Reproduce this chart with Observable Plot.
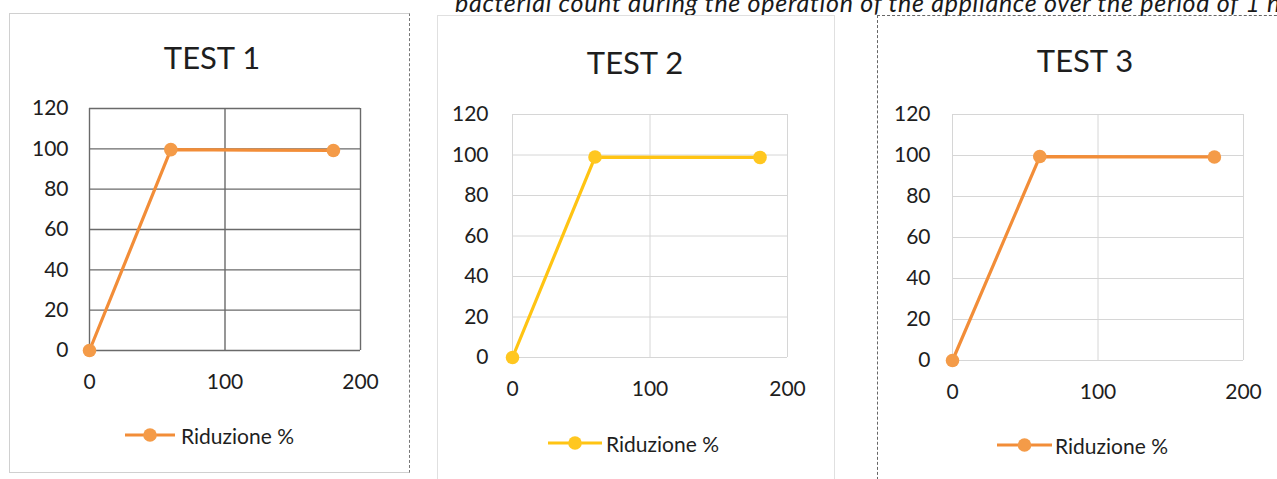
<!DOCTYPE html>
<html>
<head>
<meta charset="utf-8">
<script src="https://cdn.jsdelivr.net/npm/d3@7"></script>
<script src="https://cdn.jsdelivr.net/npm/@observablehq/plot@0.6"></script>
<style>
  html, body { margin: 0; padding: 0; background: #fff; }
  body { width: 1277px; height: 479px; position: relative; overflow: hidden; font-family: Lato, "Open Sans", sans-serif; color: #222; }
  .abs { position: absolute; }
  .title { font-size: 31px; transform: translate(-50%, -50%); white-space: nowrap; color: #1e1e1e; }
  .legtext { font-size: 21px; transform: translateY(-50%); white-space: nowrap; color: #1e1e1e; }
  .cap { font-style: italic; font-size: 25px; white-space: nowrap; color: #1a1a1a; line-height: 1; }
</style>
</head>
<body>
<script>
// ---- data ----
const xTime = [0, 60, 180];
const test1 = [0, 99.6, 99.2];
const test2 = [0, 99.0, 98.8];
const test3 = [0, 99.5, 99.3];
const titles = ["TEST 1", "TEST 2", "TEST 3"];
const seriesName = "Riduzione %";
const xTicks = [0, 100, 200];
const yTicks = [0, 20, 40, 60, 80, 100, 120];
const captionText = "bacterial count during the operation of the appliance over the period of 1 h";

// ---- layout ----
const orange = "#F28D38", orangeDot = "#F49B48", yellow = "#FFC413", yellowDot = "#FFC720";
const panels = [
  { title: titles[0], values: test1, line: orange, dot: orangeDot, grid: "#6a6a6a", gridW: 1.4,
    frame: { x0: 89, x1: 360, y0: 108, y1: 350 }, tx: 212, ty: 57, leg: { x0: 125, x1: 175, y: 435, t: 181 },
    box: { l: 9, t: 13, w: 401, h: 460, css: "border:1px solid #d0d0d0;border-right:1px dashed #777;" }, padY: 21 },
  { title: titles[1], values: test2, line: yellow, dot: yellowDot, grid: "#d6d6d6", gridW: 1,
    frame: { x0: 512, x1: 787, y0: 114, y1: 357 }, tx: 635, ty: 62, leg: { x0: 548, x1: 602, y: 443, t: 606 },
    box: { l: 437, t: 15, w: 398, h: 480, css: "border:1px solid #e0e0e0;" }, padY: 24 },
  { title: titles[2], values: test3, line: orange, dot: orangeDot, grid: "#d6d6d6", gridW: 1,
    frame: { x0: 952, x1: 1243, y0: 114, y1: 360 }, tx: 1085, ty: 60, leg: { x0: 997, x1: 1052, y: 445, t: 1055 },
    box: { l: 877, t: 15, w: 420, h: 480, css: "border-top:1px dashed #666;border-left:1px dashed #666;" }, padY: 22 }
];

function abs(el, x, y) { el.classList.add("abs"); el.style.left = x + "px"; el.style.top = y + "px"; return el; }

// caption (cut off at the top, as in the scan)
const cap = abs(document.createElement("div"), 455, -10);
cap.className += " cap";
cap.textContent = captionText;
document.body.appendChild(cap);
{
  const w = cap.getBoundingClientRect().width;
  const target = 825;
  const n = captionText.length - 1;
  cap.style.letterSpacing = ((target - w) / n) + "px";
}

const mL = 60, mR = 40, mT = 15, mB = 50;

panels.forEach(p => {
  const box = abs(document.createElement("div"), p.box.l, p.box.t);
  box.style.cssText += `width:${p.box.w}px;height:${p.box.h}px;box-sizing:border-box;${p.box.css}`;
  document.body.appendChild(box);

  const data = xTime.map((x, i) => ({ x, y: p.values[i] }));
  const fw = p.frame.x1 - p.frame.x0, fh = p.frame.y1 - p.frame.y0;
  const chart = Plot.plot({
    width: fw + mL + mR,
    height: fh + mT + mB,
    marginLeft: mL, marginRight: mR, marginTop: mT, marginBottom: mB,
    style: { fontFamily: "Lato, sans-serif", fontSize: "21px", color: "#1e1e1e", background: "transparent", overflow: "visible" },
    x: { domain: [0, 200], ticks: xTicks, tickSize: 0, tickPadding: 24, label: null },
    y: { domain: [0, 120], ticks: yTicks, tickSize: 0, tickPadding: p.padY, label: null },
    marks: [
      Plot.gridY(yTicks, { stroke: p.grid, strokeOpacity: 1, strokeWidth: p.gridW }),
      Plot.gridX(xTicks, { stroke: p.grid, strokeOpacity: 1, strokeWidth: p.gridW }),
      Plot.line(data, { x: "x", y: "y", stroke: p.line, strokeWidth: 3.2 }),
      Plot.dot(data, { x: "x", y: "y", r: 6.8, fill: p.dot, stroke: "none" })
    ]
  });
  abs(chart, p.frame.x0 - mL, p.frame.y0 - mT);
  document.body.appendChild(chart);

  const t = abs(document.createElement("div"), p.tx, p.ty);
  t.className += " title";
  t.textContent = p.title;
  document.body.appendChild(t);

  // legend swatch (line with marker)
  const ns = "http://www.w3.org/2000/svg";
  const sw = document.createElementNS(ns, "svg");
  const lw = p.leg.x1 - p.leg.x0;
  sw.setAttribute("width", lw); sw.setAttribute("height", 20);
  sw.style.position = "absolute"; sw.style.left = p.leg.x0 + "px"; sw.style.top = (p.leg.y - 10) + "px";
  const ln = document.createElementNS(ns, "line");
  ln.setAttribute("x1", 0); ln.setAttribute("x2", lw); ln.setAttribute("y1", 10); ln.setAttribute("y2", 10);
  ln.setAttribute("stroke", p.line); ln.setAttribute("stroke-width", 3.2);
  const c = document.createElementNS(ns, "circle");
  c.setAttribute("cx", lw / 2); c.setAttribute("cy", 10); c.setAttribute("r", 6.8); c.setAttribute("fill", p.dot);
  sw.appendChild(ln); sw.appendChild(c);
  document.body.appendChild(sw);

  const lt = abs(document.createElement("div"), p.leg.t, p.leg.y);
  lt.className += " legtext";
  lt.textContent = seriesName;
  document.body.appendChild(lt);
});
</script>
</body>
</html>
